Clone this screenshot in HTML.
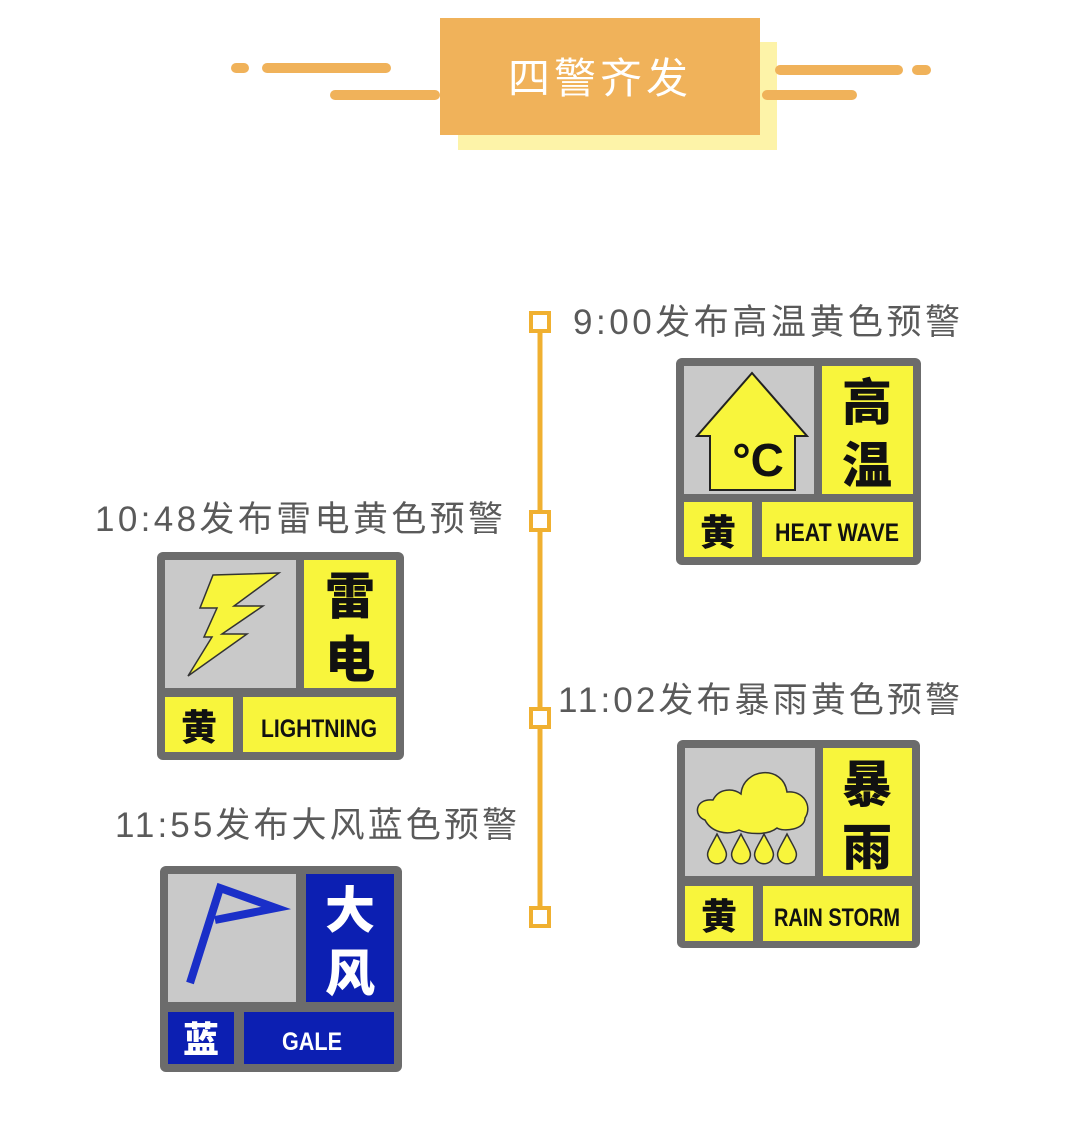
<!DOCTYPE html>
<html><head><meta charset="utf-8"><style>
html,body{margin:0;padding:0;background:#fff;}
svg{display:block;}
text{font-family:"Liberation Sans","Noto Sans CJK SC",sans-serif;}
.cj{font-family:"Noto Sans CJK SC","WenQuanYi Zen Hei",sans-serif;font-weight:900;}
.lab{fill:#5a5a5a;font-size:35px;}
.en{font-family:"Liberation Sans",sans-serif;font-weight:bold;font-size:25px;}
</style></head><body>
<svg width="1080" height="1134" viewBox="0 0 1080 1134" xmlns="http://www.w3.org/2000/svg">
<rect x="458" y="42" width="319" height="108" fill="#fdf3a8"/>
<rect x="440" y="18" width="320" height="117" fill="#f0b25a"/>
<text x="598" y="93" text-anchor="middle" font-size="42" fill="#fff" textLength="180" style="font-family:'Noto Sans CJK SC',sans-serif;font-weight:400">四警齐发</text>
<g stroke="#f0b25a" stroke-width="10" stroke-linecap="round">
<line x1="236" y1="68" x2="244" y2="68"/>
<line x1="267" y1="68" x2="386" y2="68"/>
<line x1="335" y1="95" x2="435" y2="95"/>
<line x1="780" y1="70" x2="898" y2="70"/>
<line x1="917" y1="70" x2="926" y2="70"/>
<line x1="767" y1="95" x2="852" y2="95"/>
</g>
<line x1="540" y1="322" x2="540" y2="917" stroke="#f0b030" stroke-width="5"/>
<g fill="#fff" stroke="#f0b030" stroke-width="4">
<rect x="531" y="313" width="18" height="18"/>
<rect x="531" y="512" width="18" height="18"/>
<rect x="531" y="709" width="18" height="18"/>
<rect x="531" y="908" width="18" height="18"/>
</g>
<text class="lab" x="573" y="334" textLength="387">9:00发布高温黄色预警</text>
<text class="lab" x="95" y="531" textLength="408">10:48发布雷电黄色预警</text>
<text class="lab" x="558" y="712" textLength="402">11:02发布暴雨黄色预警</text>
<text class="lab" x="115" y="837" textLength="402">11:55发布大风蓝色预警</text>

<g transform="translate(676,358)">
<rect width="245" height="207" rx="6" fill="#6c6c6c"/>
<rect x="8" y="8" width="130" height="128" fill="#c9c9c9"/>
<rect x="146" y="8" width="91" height="128" fill="#f8f53c"/>
<rect x="8" y="144" width="68" height="55" fill="#f8f53c"/>
<rect x="86" y="144" width="151" height="55" fill="#f8f53c"/>
<polygon points="76,15 131,78 119,78 119,132 34,132 34,78 21,78" fill="#f8f53c" stroke="#222" stroke-width="2"/>
<text x="82" y="118" text-anchor="middle" font-size="46" font-weight="bold" fill="#111">°C</text>
<text class="cj" x="191" y="62" text-anchor="middle" font-size="50" fill="#111">高</text>
<text class="cj" x="191" y="125" text-anchor="middle" font-size="50" fill="#111">温</text>
<text class="cj" x="42" y="187" text-anchor="middle" font-size="36" fill="#111">黄</text>
<text class="en" x="161" y="183" text-anchor="middle" fill="#111" textLength="124" lengthAdjust="spacingAndGlyphs">HEAT WAVE</text>
</g>

<g transform="translate(157,552)">
<rect width="247" height="208" rx="6" fill="#6c6c6c"/>
<rect x="8" y="8" width="131" height="128" fill="#c9c9c9"/>
<rect x="147" y="8" width="92" height="128" fill="#f8f53c"/>
<rect x="8" y="145" width="68" height="55" fill="#f8f53c"/>
<rect x="86" y="145" width="153" height="55" fill="#f8f53c"/>
<polygon points="56,23 122,21 77,54 106,54 65,82 90,82 31,124 55,85 47,85 60,56 43,56" fill="#f8f53c" stroke="#333" stroke-width="1.5"/>
<text class="cj" x="193" y="62" text-anchor="middle" font-size="50" fill="#111">雷</text>
<text class="cj" x="193" y="125" text-anchor="middle" font-size="50" fill="#111">电</text>
<text class="cj" x="42" y="188" text-anchor="middle" font-size="36" fill="#111">黄</text>
<text class="en" x="162" y="185" text-anchor="middle" fill="#111" textLength="116" lengthAdjust="spacingAndGlyphs">LIGHTNING</text>
</g>

<g transform="translate(677,740)">
<rect width="243" height="208" rx="6" fill="#6c6c6c"/>
<rect x="8" y="8" width="130" height="128" fill="#c9c9c9"/>
<rect x="146" y="8" width="89" height="128" fill="#f8f53c"/>
<rect x="8" y="146" width="68" height="55" fill="#f8f53c"/>
<rect x="86" y="146" width="149" height="55" fill="#f8f53c"/>
<path d="M28,80 C16,76 18,58 36,60 C42,48 56,48 64,54 C66,28 106,24 110,52 C126,50 136,66 128,78 C128,90 106,92 100,88 C90,96 70,94 62,90 C50,96 34,92 28,80 Z" fill="#f8f53c" stroke="#333" stroke-width="1.5"/>
<g fill="#f8f53c" stroke="#333" stroke-width="1.5">
<path d="M40,94 C34,106 29,112 31,117 C33,126 47,126 49,117 C51,112 46,106 40,94 Z"/>
<path d="M64,94 C58,106 53,112 55,117 C57,126 71,126 73,117 C75,112 70,106 64,94 Z"/>
<path d="M87,94 C81,106 76,112 78,117 C80,126 94,126 96,117 C98,112 93,106 87,94 Z"/>
<path d="M110,94 C104,106 99,112 101,117 C103,126 117,126 119,117 C121,112 116,106 110,94 Z"/>
</g>
<text class="cj" x="190" y="62" text-anchor="middle" font-size="50" fill="#111">暴</text>
<text class="cj" x="190" y="125" text-anchor="middle" font-size="50" fill="#111">雨</text>
<text class="cj" x="42" y="189" text-anchor="middle" font-size="36" fill="#111">黄</text>
<text class="en" x="160" y="186" text-anchor="middle" fill="#111" textLength="126" lengthAdjust="spacingAndGlyphs">RAIN  STORM</text>
</g>

<g transform="translate(160,866)">
<rect width="242" height="206" rx="6" fill="#6c6c6c"/>
<rect x="8" y="8" width="128" height="128" fill="#c9c9c9"/>
<rect x="146" y="8" width="88" height="128" fill="#0c1fb2"/>
<rect x="8" y="146" width="66" height="52" fill="#0c1fb2"/>
<rect x="84" y="146" width="150" height="52" fill="#0c1fb2"/>
<polyline points="30,117 60,22 116,42 55,54" fill="none" stroke="#1a2fc8" stroke-width="8" stroke-linejoin="miter"/>
<text class="cj" x="190" y="62" text-anchor="middle" font-size="50" fill="#fff">大</text>
<text class="cj" x="190" y="125" text-anchor="middle" font-size="50" fill="#fff">风</text>
<text class="cj" x="41" y="186" text-anchor="middle" font-size="36" fill="#fff">蓝</text>
<text class="en" x="152" y="184" text-anchor="middle" fill="#fff" textLength="60" lengthAdjust="spacingAndGlyphs">GALE</text>
</g>
</svg>
</body></html>
